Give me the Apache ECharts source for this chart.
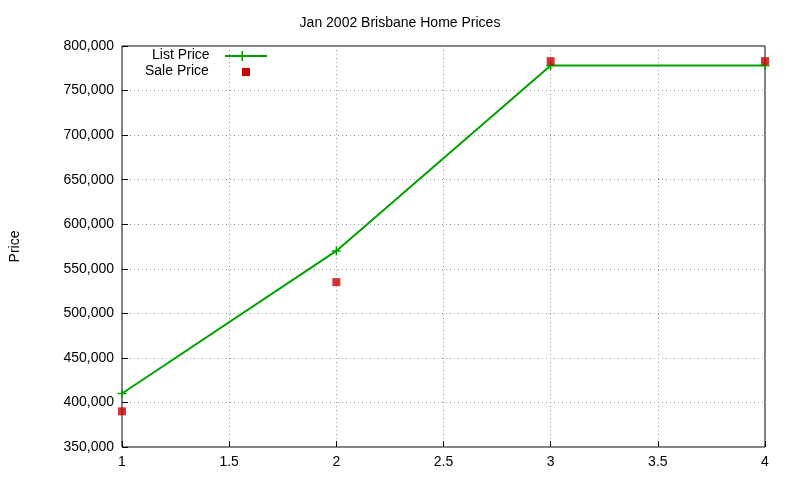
<!DOCTYPE html><html><head><meta charset="utf-8"><script src="https://cdn.jsdelivr.net/npm/echarts@6/dist/echarts.min.js"></script></head><body style="margin:0"><div id="c" style="width:800px;height:480px"></div><script>
const xs=[1,2,3,4];
const listPrice=[410000,570000,778000,778000];
const salePrice=[390000,535000,783000,783000];
const plus='path://M4.2,0H5.8V4.2H10V5.8H5.8V10H4.2V5.8H0V4.2H4.2Z';
const ch=echarts.init(document.getElementById('c'));
const f="Liberation Sans, Arial, sans-serif";
ch.setOption({animation:false,backgroundColor:'#fff',
title:{text:'Jan 2002 Brisbane Home Prices',left:'center',top:11,textStyle:{fontFamily:f,fontSize:14,fontWeight:'normal',color:'#000'}},
grid:{left:119,right:35,top:46,bottom:33,show:true,borderColor:'#000',borderWidth:1},
xAxis:{type:'value',min:1,max:4,interval:0.5,axisLine:{show:false},axisTick:{inside:true,length:6,lineStyle:{color:'#000'}},
 axisLabel:{fontFamily:f,fontSize:14,color:'#000',margin:8},splitLine:{lineStyle:{color:'#999',type:[1,3]}}},
yAxis:{type:'value',min:350000,max:800000,interval:50000,name:'Price',nameLocation:'middle',nameGap:100,nameRotate:90,
 nameTextStyle:{fontFamily:f,fontSize:14,color:'#000'},axisLine:{show:false},axisTick:{inside:true,length:6,lineStyle:{color:'#000'}},
 axisLabel:{fontFamily:f,fontSize:14,color:'#000',margin:8},splitLine:{lineStyle:{color:'#999',type:[1,3]}}},
series:[{type:'line',data:xs.map((x,i)=>[x,listPrice[i]]),symbol:plus,symbolSize:9,showSymbol:true,
 lineStyle:{color:'#00a000',width:2},itemStyle:{color:'#00a000'}},
{type:'scatter',data:xs.map((x,i)=>[x,salePrice[i]]),symbol:'rect',symbolSize:8,itemStyle:{color:'#cc0000'},z:5}],
graphic:[
 {type:'text',left:152,top:48,style:{text:'List Price',font:'14px '+f,fill:'#000'}},
 {type:'line',shape:{x1:225,y1:56,x2:267,y2:56},style:{stroke:'#00a000',lineWidth:2}},
 {type:'rect',shape:{x:241.5,y:51,width:1.6,height:10},style:{fill:'#00a000'}},
 {type:'text',left:145,top:64,style:{text:'Sale Price',font:'14px '+f,fill:'#000'}},
 {type:'rect',shape:{x:242,y:68,width:8,height:8},style:{fill:'#cc0000'}}
]});
</script></body></html>
